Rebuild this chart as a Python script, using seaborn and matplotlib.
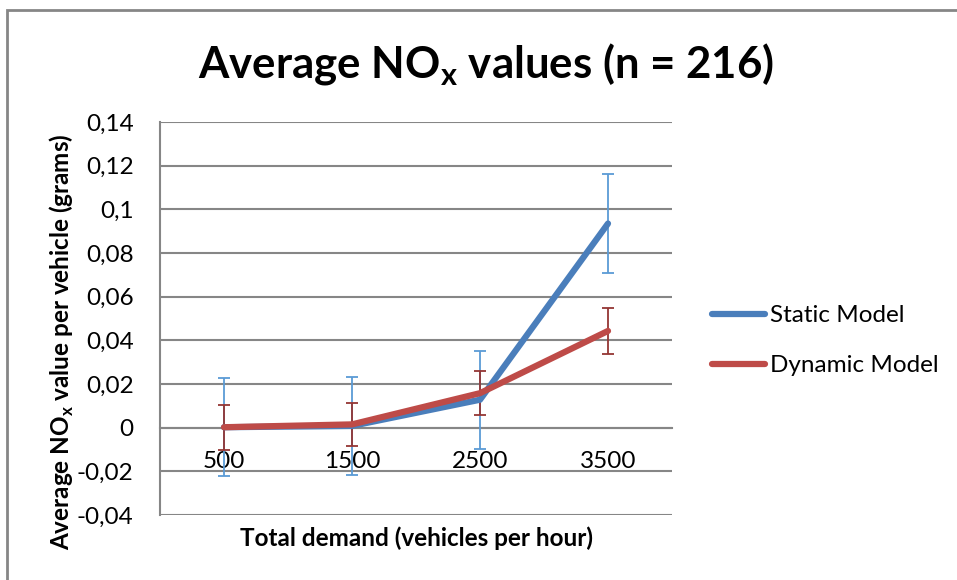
import matplotlib
matplotlib.use("Agg")
import matplotlib.pyplot as plt
import matplotlib.ticker as mticker
from matplotlib.patches import Rectangle
import numpy as np
import pandas as pd
import seaborn as sns

# data
demand = ["500", "1500", "2500", "3500"]
static_mean = [0.0002, 0.0008, 0.0128, 0.0935]
static_err = [0.0225, 0.0225, 0.0225, 0.0225]
dynamic_mean = [0.0002, 0.0015, 0.0158, 0.0443]
dynamic_err = [0.0102, 0.0098, 0.0102, 0.0104]
y_ticks = [-0.04, -0.02, 0, 0.02, 0.04, 0.06, 0.08, 0.1, 0.12, 0.14]

sns.set_style("white")
plt.rcParams["font.family"] = ["Lato", "DejaVu Sans"]
plt.rcParams["text.color"] = "black"
plt.rcParams["axes.labelcolor"] = "black"
plt.rcParams["mathtext.fontset"] = "custom"
plt.rcParams["mathtext.rm"] = "Lato"
plt.rcParams["mathtext.bf"] = "Lato:bold"

line_blue = "#4A7EBB"
line_red = "#BE4B48"
err_blue = "#5B9BD5"
err_red = "#943634"
grid_col = "#868686"
fs = 17.5

df = pd.DataFrame({
    "demand": demand * 2,
    "value": static_mean + dynamic_mean,
    "model": ["Static Model"] * 4 + ["Dynamic Model"] * 4,
})

fig = plt.figure(figsize=(9.57, 5.8), dpi=100)
ax = fig.add_axes([160 / 957, 1 - 515 / 580, 512 / 957, 393 / 580])

x = np.arange(len(demand))
ax.errorbar(x, static_mean, yerr=static_err, fmt="none", ecolor=err_blue,
            elinewidth=1.3, capsize=4.5, capthick=1.3, zorder=3)
ax.errorbar(x, dynamic_mean, yerr=dynamic_err, fmt="none", ecolor=err_red,
            elinewidth=1.3, capsize=4.5, capthick=1.3, zorder=3)
sns.lineplot(data=df, x="demand", y="value", hue="model",
             palette={"Static Model": line_blue, "Dynamic Model": line_red},
             linewidth=4.5, ax=ax, zorder=4, legend=True)
for ln in ax.get_lines():
    ln.set_solid_capstyle("round")
    ln.set_solid_joinstyle("round")

ax.set_xlim(-0.5, 3.5)
ax.set_ylim(-0.04, 0.14)
ax.set_yticks(y_ticks)
ax.yaxis.set_major_formatter(mticker.FuncFormatter(
    lambda v, p: ("%g" % round(v, 2)).replace(".", ",")))
ax.yaxis.grid(True, color=grid_col, linewidth=1.5)
ax.set_axisbelow(True)

# category axis drawn at y = 0, ticks between categories
ax.spines["bottom"].set_position(("data", 0))
ax.spines["bottom"].set_color(grid_col)
ax.spines["bottom"].set_linewidth(1.5)
ax.spines["left"].set_color(grid_col)
ax.spines["left"].set_linewidth(1.5)
ax.spines["top"].set_visible(False)
ax.spines["right"].set_visible(False)
ax.set_xticks(np.arange(-0.5, 3.6, 1.0))
ax.set_xticklabels([])
ax.tick_params(axis="x", which="major", direction="out", length=6,
               color=grid_col, width=1.5)
ax.set_xticks(x, minor=True)
ax.set_xticklabels(demand, minor=True, fontsize=fs)
ax.tick_params(axis="x", which="minor", length=0, pad=16.5,
               labelcolor="black")
ax.tick_params(axis="y", direction="out", length=7, color=grid_col,
               width=1.5, labelsize=fs, pad=12, labelcolor="black")

ax.set_xlabel("Total demand (vehicles per hour)", fontsize=fs,
              fontweight="bold")
ax.xaxis.set_label_coords(0.5, -0.028)
ax.set_ylabel(r"Average NO$_\mathbf{x}$ value per vehicle (grams)",
              fontsize=fs, fontweight="bold")
ax.yaxis.set_label_coords(-0.165, 0.44)

fig.text(0.508, 0.89, r"Average NO$_\mathbf{x}$ values (n = 216)",
         ha="center", va="center", fontsize=31.5, fontweight="bold")

handles, labels = ax.get_legend_handles_labels()
leg = ax.legend(handles, labels, loc="center left",
                bbox_to_anchor=(1.078, 0.443), frameon=False, fontsize=fs,
                handlelength=2.2, handletextpad=0.2, labelspacing=1.2,
                borderpad=0, borderaxespad=0)
for h in leg.get_lines():
    h.set_linewidth(4.5)
    h.set_solid_capstyle("round")

# chart area border (cropped on the right and bottom)
fig.patches.append(Rectangle((7 / 957, -0.1), 1.2, 1 - 10 / 580 + 0.1,
                             transform=fig.transFigure, fill=False,
                             edgecolor=grid_col, linewidth=2))

fig.savefig("out.png", dpi=100)
